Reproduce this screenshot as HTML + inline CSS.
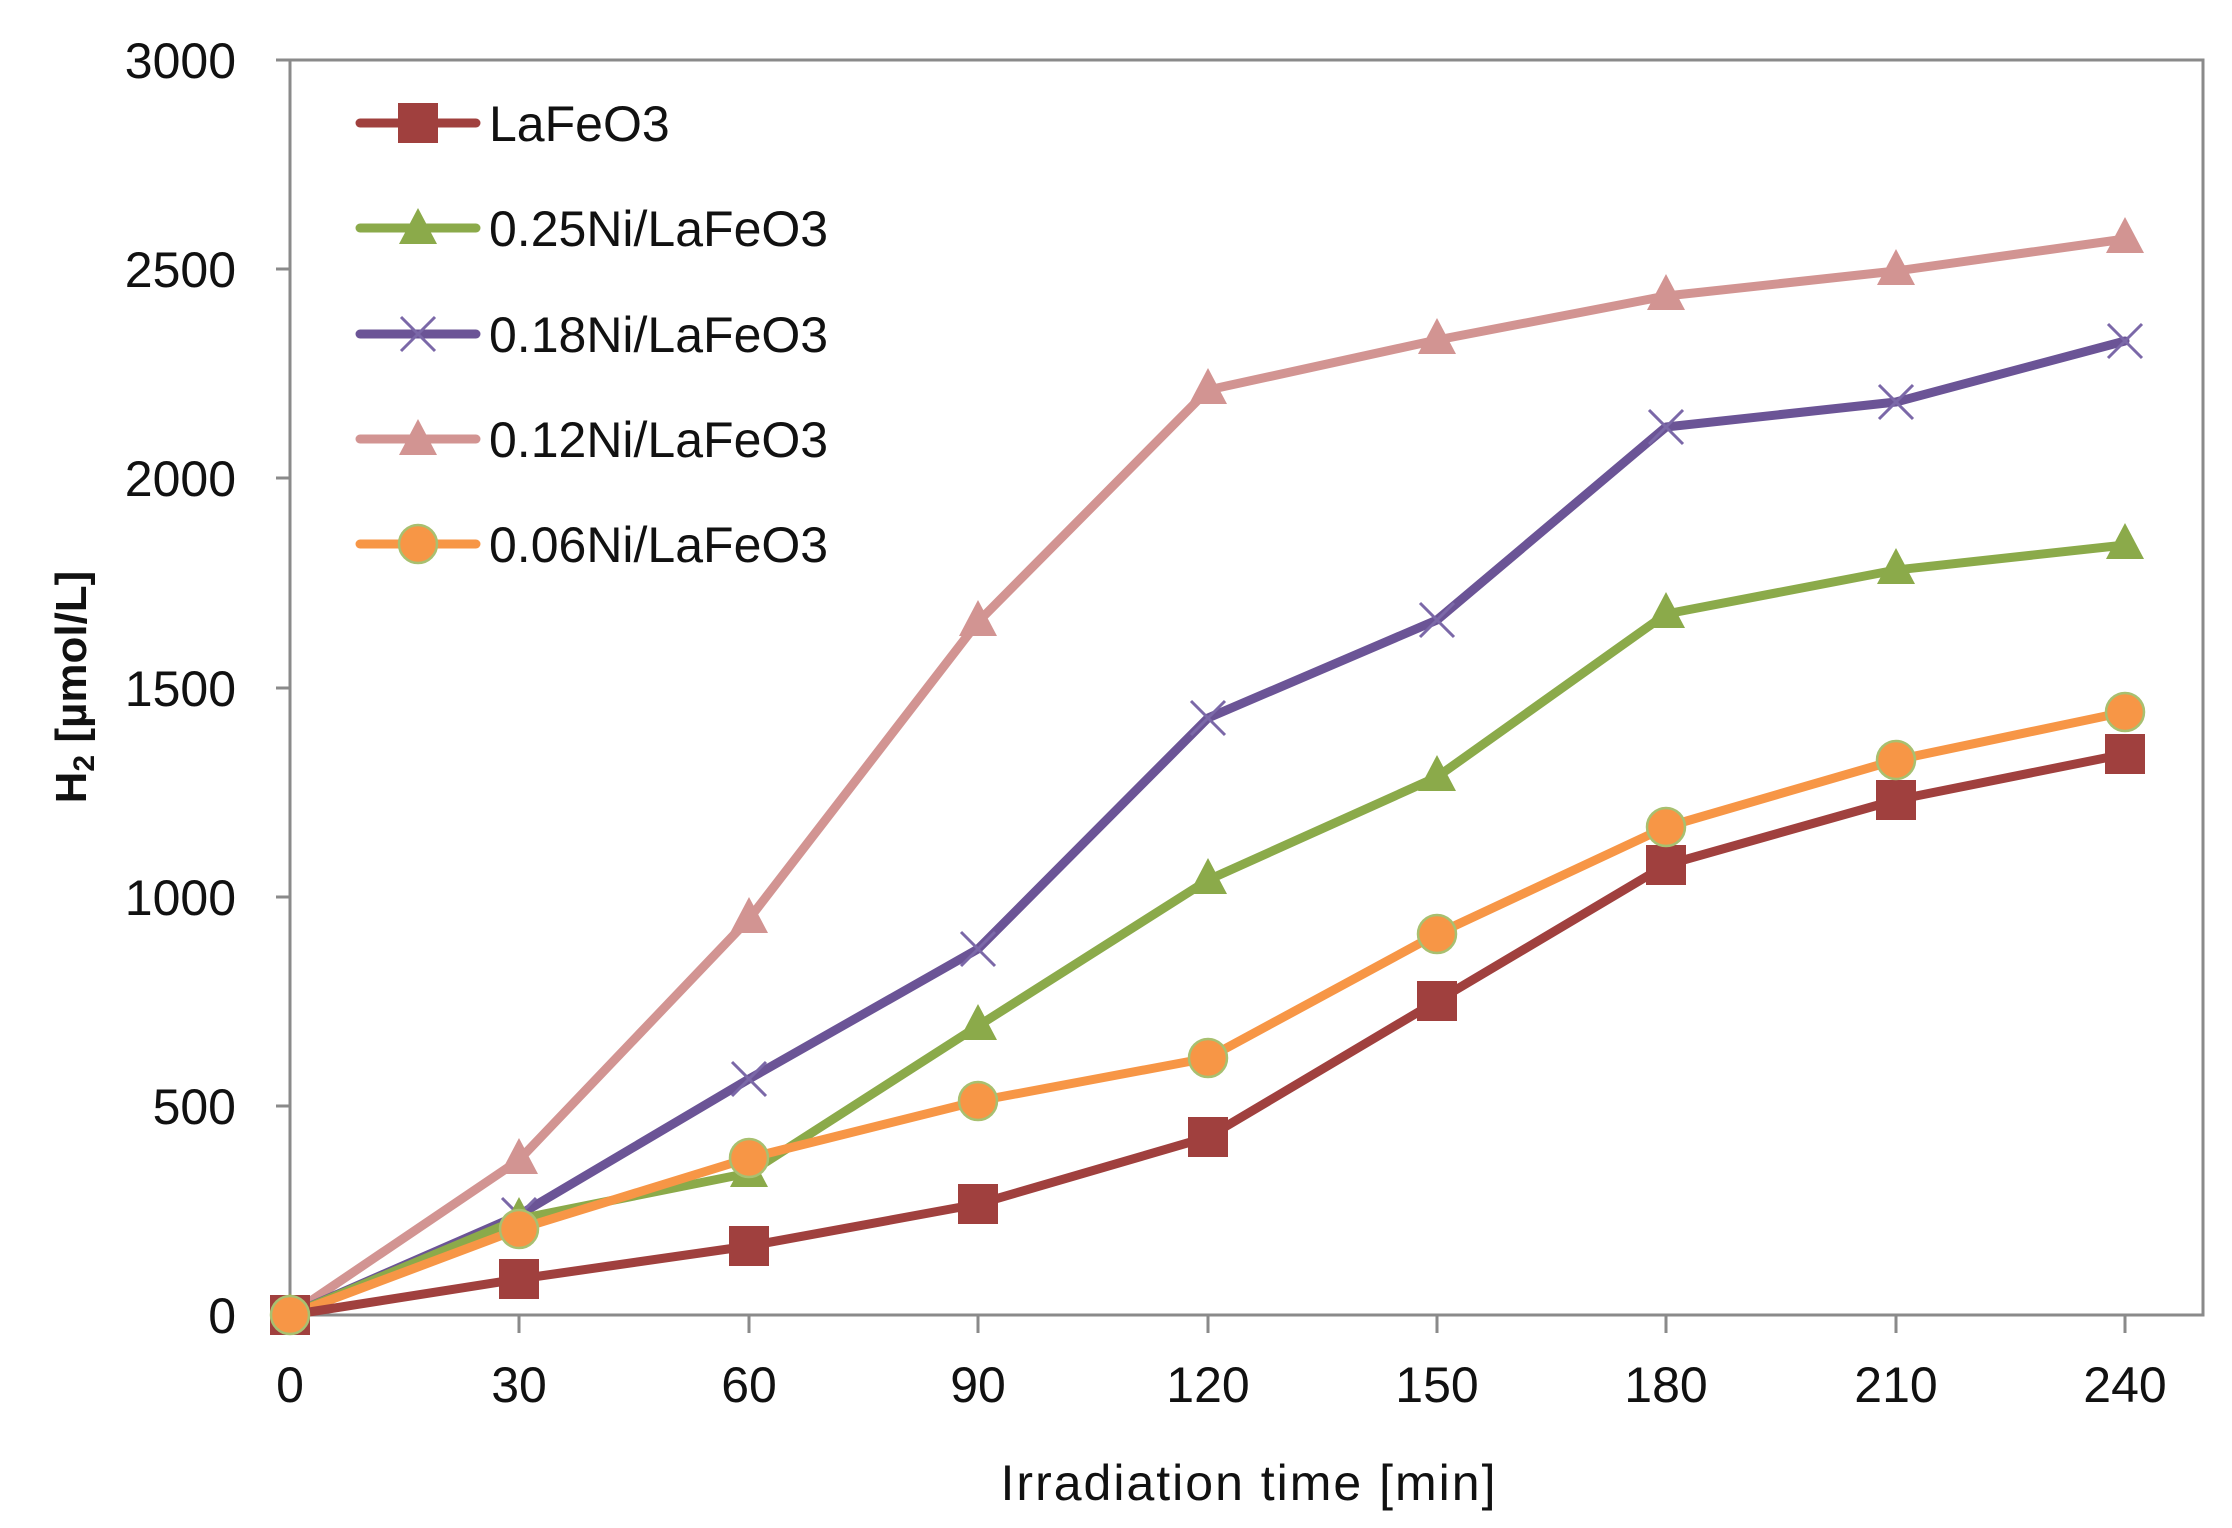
<!DOCTYPE html>
<html><head><meta charset="utf-8"><style>
html,body{margin:0;padding:0;background:#fff;}
svg{display:block;}
text{font-family:"Liberation Sans",sans-serif;fill:#111;}
</style></head><body>
<svg width="2232" height="1528" viewBox="0 0 2232 1528" xmlns="http://www.w3.org/2000/svg">
<rect width="2232" height="1528" fill="#fff"/>
<rect x="290" y="60" width="1913" height="1255" fill="none" stroke="#8a8a8a" stroke-width="3"/>
<g stroke="#8a8a8a" stroke-width="3">
<line x1="276" y1="60" x2="290" y2="60"/>
<line x1="276" y1="269" x2="290" y2="269"/>
<line x1="276" y1="478" x2="290" y2="478"/>
<line x1="276" y1="688" x2="290" y2="688"/>
<line x1="276" y1="897" x2="290" y2="897"/>
<line x1="276" y1="1106" x2="290" y2="1106"/>
<line x1="276" y1="1315" x2="290" y2="1315"/>
<line x1="290" y1="1315" x2="290" y2="1333"/>
<line x1="519" y1="1315" x2="519" y2="1333"/>
<line x1="749" y1="1315" x2="749" y2="1333"/>
<line x1="978" y1="1315" x2="978" y2="1333"/>
<line x1="1208" y1="1315" x2="1208" y2="1333"/>
<line x1="1437" y1="1315" x2="1437" y2="1333"/>
<line x1="1666" y1="1315" x2="1666" y2="1333"/>
<line x1="1896" y1="1315" x2="1896" y2="1333"/>
<line x1="2125" y1="1315" x2="2125" y2="1333"/>
</g>
<g font-size="50" text-anchor="end">
<text x="236" y="78">3000</text>
<text x="236" y="287">2500</text>
<text x="236" y="496">2000</text>
<text x="236" y="706">1500</text>
<text x="236" y="915">1000</text>
<text x="236" y="1124">500</text>
<text x="236" y="1333">0</text>
</g>
<g font-size="50" text-anchor="middle">
<text x="290" y="1402">0</text>
<text x="519" y="1402">30</text>
<text x="749" y="1402">60</text>
<text x="978" y="1402">90</text>
<text x="1208" y="1402">120</text>
<text x="1437" y="1402">150</text>
<text x="1666" y="1402">180</text>
<text x="1896" y="1402">210</text>
<text x="2125" y="1402">240</text>
</g>
<text x="1249" y="1500" font-size="50" text-anchor="middle" letter-spacing="2">Irradiation time  [min]</text>
<text transform="translate(86,687) rotate(-90)" font-size="44" font-weight="bold" text-anchor="middle">H<tspan font-size="30" dy="8">2</tspan><tspan dy="-8"> [µmol/L]</tspan></text>

<defs>
<g id="sq"><rect x="-20" y="-20" width="40" height="40" fill="#A0403E"/></g>
<g id="trg"><polygon points="0,-22 19,14 -19,14" fill="#8BAA4A"/></g>
<g id="trp"><polygon points="0,-22 19,14 -19,14" fill="#D29492"/></g>
<g id="x"><path d="M-17,-17 L17,17 M-17,17 L17,-17" stroke="#7B68A8" stroke-width="3"/></g>
<g id="ci"><ellipse rx="19" ry="19" fill="#F79646" stroke="#A8C070" stroke-width="2.5"/></g>
</defs>
<g fill="none" stroke-width="9" stroke-linejoin="round" stroke-linecap="round">
<polyline stroke="#D29492" points="290,1315 519,1160 749,919 978,622 1208,390 1437,340 1666,296 1896,271 2125,239"/>
<polyline stroke="#6B5496" points="290,1315 519,1215 749,1079 978,949 1208,718 1437,620 1666,427 1896,402 2125,341"/>
<polyline stroke="#8BAA4A" points="290,1315 519,1219 749,1173 978,1026 1208,880 1437,777 1666,614 1896,570 2125,545"/>
<polyline stroke="#F79646" points="290,1315 519,1229 749,1158 978,1101 1208,1058 1437,934 1666,827 1896,760 2125,712"/>
<polyline stroke="#A0403E" points="290,1315 519,1279 749,1246 978,1204 1208,1137 1437,1001 1666,865 1896,800 2125,754"/>
</g>
<g>
<use href="#trp" x="290" y="1315"/><use href="#trp" x="519" y="1160"/><use href="#trp" x="749" y="919"/><use href="#trp" x="978" y="622"/><use href="#trp" x="1208" y="390"/><use href="#trp" x="1437" y="340"/><use href="#trp" x="1666" y="296"/><use href="#trp" x="1896" y="271"/><use href="#trp" x="2125" y="239"/>
<use href="#x" x="290" y="1315"/><use href="#x" x="519" y="1215"/><use href="#x" x="749" y="1079"/><use href="#x" x="978" y="949"/><use href="#x" x="1208" y="718"/><use href="#x" x="1437" y="620"/><use href="#x" x="1666" y="427"/><use href="#x" x="1896" y="402"/><use href="#x" x="2125" y="341"/>
<use href="#trg" x="290" y="1315"/><use href="#trg" x="519" y="1219"/><use href="#trg" x="749" y="1173"/><use href="#trg" x="978" y="1026"/><use href="#trg" x="1208" y="880"/><use href="#trg" x="1437" y="777"/><use href="#trg" x="1666" y="614"/><use href="#trg" x="1896" y="570"/><use href="#trg" x="2125" y="545"/>
<use href="#sq" x="290" y="1315"/><use href="#sq" x="519" y="1279"/><use href="#sq" x="749" y="1246"/><use href="#sq" x="978" y="1204"/><use href="#sq" x="1208" y="1137"/><use href="#sq" x="1437" y="1001"/><use href="#sq" x="1666" y="865"/><use href="#sq" x="1896" y="800"/><use href="#sq" x="2125" y="754"/>
<use href="#ci" x="290" y="1315"/><use href="#ci" x="519" y="1229"/><use href="#ci" x="749" y="1158"/><use href="#ci" x="978" y="1101"/><use href="#ci" x="1208" y="1058"/><use href="#ci" x="1437" y="934"/><use href="#ci" x="1666" y="827"/><use href="#ci" x="1896" y="760"/><use href="#ci" x="2125" y="712"/>
</g>
<g stroke-width="9" stroke-linecap="round">
<line x1="360" y1="123" x2="476" y2="123" stroke="#A0403E"/>
<line x1="360" y1="228" x2="476" y2="228" stroke="#8BAA4A"/>
<line x1="360" y1="334" x2="476" y2="334" stroke="#6B5496"/>
<line x1="360" y1="439" x2="476" y2="439" stroke="#D29492"/>
<line x1="360" y1="544" x2="476" y2="544" stroke="#F79646"/>
</g>
<use href="#sq" x="418" y="123"/>
<use href="#trg" x="418" y="230"/>
<use href="#x" x="418" y="334"/>
<use href="#trp" x="418" y="441"/>
<use href="#ci" x="418" y="544"/>
<g font-size="50">
<text x="489" y="141">LaFeO3</text>
<text x="489" y="246">0.25Ni/LaFeO3</text>
<text x="489" y="352">0.18Ni/LaFeO3</text>
<text x="489" y="457">0.12Ni/LaFeO3</text>
<text x="489" y="562">0.06Ni/LaFeO3</text>
</g>
</svg>
</body></html>
